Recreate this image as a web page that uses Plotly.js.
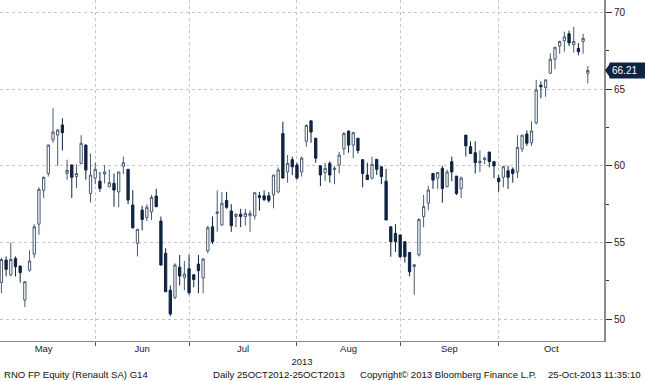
<!DOCTYPE html>
<html>
<head>
<meta charset="utf-8">
<script src="https://cdn.plot.ly/plotly-3.0.1.min.js"></script>
<style>html,body{margin:0;padding:0;background:#fff;}#chart{width:645px;height:381px;}</style>
</head>
<body>
<div id="chart"></div>
<script>
// Trading days shown (May 3 – Oct 25, 2013)
const dates = [
 "2013-05-03","2013-05-06","2013-05-07","2013-05-08","2013-05-09","2013-05-10","2013-05-13","2013-05-14","2013-05-15","2013-05-16","2013-05-17","2013-05-20","2013-05-21","2013-05-22","2013-05-23","2013-05-24","2013-05-27","2013-05-28","2013-05-29","2013-05-30","2013-05-31",
 "2013-06-03","2013-06-04","2013-06-05","2013-06-06","2013-06-07","2013-06-10","2013-06-11","2013-06-12","2013-06-13","2013-06-14","2013-06-17","2013-06-18","2013-06-19","2013-06-20","2013-06-21","2013-06-24","2013-06-25","2013-06-26","2013-06-27","2013-06-28",
 "2013-07-01","2013-07-02","2013-07-03","2013-07-04","2013-07-05","2013-07-08","2013-07-09","2013-07-10","2013-07-11","2013-07-12","2013-07-15","2013-07-16","2013-07-17","2013-07-18","2013-07-19","2013-07-22","2013-07-23","2013-07-24","2013-07-25","2013-07-26","2013-07-29","2013-07-30","2013-07-31",
 "2013-08-01","2013-08-02","2013-08-05","2013-08-06","2013-08-07","2013-08-08","2013-08-09","2013-08-12","2013-08-13","2013-08-14","2013-08-15","2013-08-16","2013-08-19","2013-08-20","2013-08-21","2013-08-22","2013-08-23","2013-08-26","2013-08-27","2013-08-28","2013-08-29","2013-08-30",
 "2013-09-02","2013-09-03","2013-09-04","2013-09-05","2013-09-06","2013-09-09","2013-09-10","2013-09-11","2013-09-12","2013-09-13","2013-09-16","2013-09-17","2013-09-18","2013-09-19","2013-09-20","2013-09-23","2013-09-24","2013-09-25","2013-09-26","2013-09-27","2013-09-30",
 "2013-10-01","2013-10-02","2013-10-03","2013-10-04","2013-10-07","2013-10-08","2013-10-09","2013-10-10","2013-10-11","2013-10-14","2013-10-15","2013-10-16","2013-10-17","2013-10-18","2013-10-21","2013-10-22","2013-10-23","2013-10-24","2013-10-25"
];
const open = [
 52.40,53.86,52.90,53.97,53.47,51.26,53.20,54.25,56.20,58.40,59.50,61.70,62.00,62.66,59.50,60.05,59.30,60.16,61.35,58.20,59.20,
 59.00,59.47,58.64,58.86,58.30,59.97,59.77,57.45,54.95,57.12,56.64,57.00,58.03,56.40,54.30,51.90,51.43,53.40,52.74,53.30,
 52.90,53.60,52.70,54.47,56.03,56.90,56.14,57.74,57.06,56.70,56.85,56.70,56.75,56.73,58.05,58.05,58.05,58.10,58.30,62.10,59.60,60.40,60.05,
 59.60,61.60,62.93,61.80,60.00,59.55,60.16,59.75,60.05,61.10,62.27,61.35,61.80,60.40,59.40,59.20,60.42,59.94,59.00,56.03,55.60,55.50,
 55.06,54.35,53.45,54.20,56.70,57.56,59.50,59.20,59.84,58.64,60.27,59.33,58.53,62.00,61.25,60.85,60.20,60.40,60.90,60.27,59.19,
 59.25,59.68,59.77,59.60,61.10,62.07,61.50,62.80,65.25,65.10,66.03,66.94,67.80,68.15,68.60,67.90,67.65,68.10,66.03
];
const high = [
 54.00,54.10,55.00,54.10,53.50,52.50,54.50,56.20,58.60,59.30,61.40,63.75,62.40,63.10,60.40,60.10,60.10,62.00,61.40,60.80,60.20,
 59.60,60.05,59.77,59.50,59.60,60.60,59.80,58.42,55.90,57.40,57.50,58.10,58.50,56.70,54.63,52.20,53.65,54.20,53.80,54.20,
 52.95,54.20,54.00,56.10,56.70,58.40,58.30,58.30,57.50,56.90,57.20,57.20,57.10,58.25,58.30,58.40,58.30,59.40,59.90,62.87,60.70,60.60,60.20,
 60.60,62.70,62.93,61.80,60.00,60.20,60.30,60.00,60.90,62.20,62.27,62.20,61.80,60.40,60.20,60.60,60.42,59.94,59.80,56.03,56.20,55.50,
 55.06,54.35,53.60,56.60,58.10,58.70,59.50,59.60,60.00,59.75,60.60,59.33,59.30,62.00,61.60,61.60,61.00,60.60,60.90,60.27,59.40,
 60.00,60.00,59.90,62.00,62.00,62.30,62.90,65.60,65.50,65.60,67.33,67.75,68.15,68.74,68.80,69.06,68.00,68.60,66.50
];
const low = [
 51.70,52.80,52.80,52.80,52.40,50.80,53.10,54.00,55.50,57.90,59.30,61.50,60.00,61.00,59.10,57.90,58.55,60.10,59.10,57.60,58.80,
 58.30,58.85,58.60,57.34,57.30,59.45,57.50,55.90,54.10,55.80,56.40,56.47,57.30,53.50,51.80,50.20,51.30,52.20,51.90,51.60,
 52.10,51.70,51.70,54.30,54.90,55.70,56.10,57.20,55.70,56.00,56.00,56.10,55.70,56.50,57.07,57.70,57.60,57.23,58.20,59.20,58.90,59.40,59.10,
 59.30,61.24,61.50,60.20,58.68,59.00,58.90,58.80,59.50,60.70,60.85,60.50,60.80,58.60,59.10,59.10,59.40,58.80,56.47,54.08,54.40,54.00,
 53.70,52.80,51.60,54.10,56.00,57.10,58.50,58.50,57.60,58.60,59.00,58.10,57.90,60.60,60.80,59.50,59.60,60.10,59.90,59.20,58.30,
 58.60,58.50,58.90,59.20,60.90,61.30,61.30,62.70,64.40,64.50,66.00,66.30,67.30,67.43,67.80,67.37,67.20,67.30,65.37
];
const close = [
 53.90,53.26,53.90,53.43,53.04,52.45,53.80,56.03,58.47,59.25,61.35,62.20,62.33,62.16,59.70,59.25,59.50,61.47,59.73,59.40,59.77,
 58.53,59.60,58.90,58.42,59.60,60.20,57.77,55.97,55.86,56.50,57.30,57.95,57.34,53.54,51.80,50.35,53.54,52.82,52.95,51.73,
 52.60,53.17,53.93,55.97,55.06,57.00,57.56,57.30,56.10,56.85,56.70,56.90,56.90,58.25,57.95,57.80,57.75,59.40,59.73,59.20,60.16,59.94,59.20,
 60.50,62.63,62.20,60.50,59.40,59.84,59.40,59.85,60.70,62.10,61.35,62.16,61.00,59.50,59.10,60.10,59.77,59.30,56.47,55.06,55.06,54.08,
 54.08,53.10,53.55,56.50,57.34,58.42,59.07,59.57,58.53,59.60,59.60,58.20,59.20,61.30,60.80,60.20,60.30,60.50,60.27,59.99,58.97,
 59.94,59.25,59.50,61.20,62.00,61.47,62.27,64.94,65.15,65.60,66.94,67.72,68.10,68.40,68.00,68.10,67.43,68.30,66.21
];
const monthNames = ["May","Jun","Jul","Aug","Sep","Oct"];
const yTicks = [50,55,60,65,70];
const yMinor = [52.5,57.5,62.5,67.5];
const yearLabel = "2013";
const footer = ["RNO FP Equity (Renault SA) G14","Daily 25OCT2012-25OCT2013","Copyright\u00a9 2013 Bloomberg Finance L.P.","25-Oct-2013 11:35:10"];
// trading days of the first month that lie before the first drawn candle (May 2) plus the prior month end (Apr 30)
const hiddenBefore = 2;

const idx = dates.map((d,i)=>i);
const xRange = [-0.3, 128.45];
const yRange = [48.59, 70.80];

// month-end gridlines (at the last trading day of each month) and label centers
const bounds = [];
for (let i=1;i<dates.length;i++){
  if (dates[i].slice(5,7)!==dates[i-1].slice(5,7)) bounds.push(i-1);
}
const edges = [-hiddenBefore].concat(bounds, [xRange[1]]);
const mids = [];
for (let k=0;k<edges.length-1;k++) mids.push((edges[k]+edges[k+1])/2);

const navy = "#0f2342";
const trace = {
  type: "candlestick",
  x: idx, open: open, high: high, low: low, close: close,
  increasing: {line: {color: "#4b5a6e", width: 1}, fillcolor: "#ffffff"},
  decreasing: {line: {color: navy, width: 1}, fillcolor: navy},
  whiskerwidth: 0,
  hoverinfo: "skip",
  showlegend: false
};
const trace2 = {x:[mids[1]], y:[yRange[0]], xaxis:"x2", yaxis:"y", mode:"markers", marker:{opacity:0}, hoverinfo:"skip", showlegend:false, type:"scatter"};

const last = close[close.length-1];
const pxW = 604;
const shapes = [{
  type:"path", xref:"paper", yref:"y",
  path: `M ${1+1/pxW},${last} L ${1+6/pxW},${last+0.45} L ${1+6/pxW},${last-0.45} Z`,
  fillcolor: navy, line:{width:0}
}];

const fnt = "Liberation Sans, Arial, sans-serif";
const fsz = 9.6;
const annotations = [
  {text: last.toFixed(2), x:1, xref:"paper", xanchor:"left", xshift:5, y:last, yref:"y", yanchor:"middle",
   showarrow:false, bgcolor:navy, font:{color:"#ffffff", size:10, family:fnt}, borderpad:2, width:34, align:"left"},
  {text: footer[0], x:2/pxW, xref:"paper", xanchor:"left", y:-0.097, yref:"paper", yanchor:"middle", showarrow:false, font:{size:fsz, color:"#111", family:fnt}},
  {text: footer[1], x:211/pxW, xref:"paper", xanchor:"left", y:-0.097, yref:"paper", yanchor:"middle", showarrow:false, font:{size:fsz, color:"#111", family:fnt}},
  {text: footer[2], x:358/pxW, xref:"paper", xanchor:"left", y:-0.097, yref:"paper", yanchor:"middle", showarrow:false, font:{size:fsz, color:"#111", family:fnt}},
  {text: footer[3], x:643/pxW, xref:"paper", xanchor:"right", y:-0.097, yref:"paper", yanchor:"middle", showarrow:false, font:{size:fsz, color:"#111", family:fnt}}
];

const layout = {
  width: 645, height: 381,
  margin: {l:0, r:41, t:0, b:40},
  paper_bgcolor: "#ffffff", plot_bgcolor: "#ffffff",
  showlegend: false,
  xaxis: {
    type:"linear", range: xRange, rangeslider:{visible:false},
    tickvals: bounds, showticklabels:false, ticks:"outside", ticklen:4, tickcolor:"#555",
    showgrid:true, gridcolor:"#c4c4c4", griddash:"dot", gridwidth:1,
    showline:true, linecolor:"#8c8c8c", linewidth:1, zeroline:false, fixedrange:true
  },
  xaxis2: {
    type:"linear", range: xRange, overlaying:"x", anchor:"y", side:"bottom",
    tickvals: mids, ticktext: monthNames, ticks:"", showgrid:false, showline:false, zeroline:false,
    tickfont:{size:9.5, color:"#222", family:fnt},
    title:{text: yearLabel, font:{size:9.5, color:"#222", family:fnt}, standoff:5}
  },
  yaxis: {
    side:"right", range: yRange, tickvals: yTicks, ticks:"outside", ticklen:6, tickcolor:"#333",
    showgrid:true, gridcolor:"#c4c4c4", griddash:"dot", gridwidth:1,
    showline:true, linecolor:"#8c8c8c", linewidth:2, zeroline:false,
    tickfont:{size:10, color:"#222", family:fnt},
    minor:{tickvals: yMinor, ticks:"outside", ticklen:3, tickcolor:"#333", showgrid:false}
  },
  shapes: shapes,
  annotations: annotations
};
Plotly.newPlot("chart", [trace, trace2], layout, {staticPlot:true, displayModeBar:false});
</script>
</body>
</html>
